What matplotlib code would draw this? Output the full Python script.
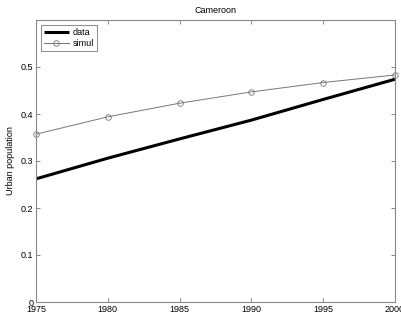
import matplotlib
matplotlib.use("Agg")
import matplotlib.pyplot as plt

years = [1975, 1980, 1985, 1990, 1995, 2000]
data = [0.262, 0.306, 0.347, 0.387, 0.431, 0.474]
simul = [0.357, 0.394, 0.423, 0.447, 0.467, 0.483]
yticks = [0, 0.1, 0.2, 0.3, 0.4, 0.5]
ytick_labels = ["0", "0.1", "0.2", "0.3", "0.4", "0.5"]

plt.rcParams['font.family'] = ['Liberation Sans', 'DejaVu Sans']

fig = plt.figure(figsize=(4.01, 3.20), dpi=100)
ax = fig.add_axes([36 / 401, 18 / 320, 359 / 401, 282 / 320])

ax.plot(years, data, color='black', lw=2.2, label='data', solid_capstyle='butt')
ax.plot(years, simul, color='#777777', lw=0.7, marker='o', markersize=4,
        markerfacecolor='none', markeredgecolor='#777777', markeredgewidth=0.6,
        label='simul', clip_on=False)

ax.set_xlim(1975, 2000)
ax.set_ylim(0, 0.6)
ax.set_xticks(years)
ax.set_xticklabels([str(y) for y in years])
ax.set_yticks(yticks)
ax.set_yticklabels(ytick_labels)
ax.tick_params(direction='in', length=3, width=0.5, top=True, right=True,
               labelsize=6.5, color='#555555', pad=2)
for s in ax.spines.values():
    s.set_color('#888888')
    s.set_linewidth(0.8)

ax.set_title('Cameroon', fontsize=6.5, pad=5)
ax.set_ylabel('Urban population', fontsize=6.5, labelpad=4)

leg = ax.legend(loc='upper left', fontsize=6.5, frameon=True, fancybox=False,
                borderpad=0.35, handlelength=2.8, handletextpad=0.4,
                labelspacing=0.25, borderaxespad=0.5)
leg.get_frame().set_edgecolor('#555555')
leg.get_frame().set_linewidth(0.6)

fig.savefig('out.png', dpi=100)
